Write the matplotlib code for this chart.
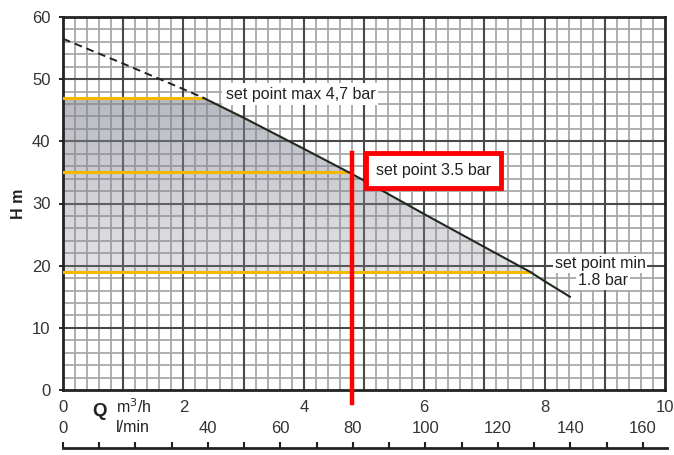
import numpy as np
import matplotlib
matplotlib.use('Agg')
from matplotlib import pyplot as plt
from matplotlib.ticker import MultipleLocator, FuncFormatter
from matplotlib.colors import LinearSegmentedColormap

plt.rcParams['font.family'] = ['Liberation Sans', 'DejaVu Sans']

# pump curve Q (m3/h) vs H (m)
q_dash = [0, 1, 2, 2.33]
h_dash = [56.5, 52.5, 48.4, 47]
q_curve = [2.33, 3, 4, 4.75, 5, 6, 7, 7.76, 8, 8.42]
h_curve = [47, 43.8, 38.8, 35, 33.7, 28.3, 23.0, 19, 17.5, 15]

# set points: head (m) and flow where they meet the curve
sp_head = [47, 35, 19]
sp_flow = [2.33, 4.75, 7.76]
sp_text = ['set point max 4,7 bar', 'set point 3.5 bar', 'set point min', '1.8 bar']
red_flow = 4.8  # 80 l/min

q_ticks = [0, 2, 4, 6, 8, 10]
lmin_labels = [0, 40, 60, 80, 100, 120, 140, 160]

fig = plt.figure(figsize=(6.74, 4.55), dpi=100)
ax = fig.add_axes([63/674, 1-390/455, 602/674, 373/455])
ax.set_xlim(0, 10)
ax.set_ylim(0, 60)

ax.xaxis.set_major_locator(MultipleLocator(1))
ax.xaxis.set_minor_locator(MultipleLocator(0.2))
ax.yaxis.set_major_locator(MultipleLocator(10))
ax.yaxis.set_minor_locator(MultipleLocator(2))
ax.xaxis.set_major_formatter(FuncFormatter(lambda v, p: '%d' % v if round(v) in q_ticks else ''))
ax.grid(which='minor', color='#a8a8a8', lw=1.3, zorder=0)
ax.set_axisbelow(True)
# darker major grid drawn on top of the minor one
for v in range(1, 10):
    ax.axvline(v, color='#4a4a4a', lw=1.5, zorder=1)
for v in range(10, 60, 10):
    ax.axhline(v, color='#4a4a4a', lw=1.5, zorder=1)
ax.tick_params(axis='x', which='both', length=0, pad=7, labelsize=12, labelcolor='#333333')
ax.tick_params(axis='y', which='major', length=3, width=1.2, pad=6, labelsize=12, labelcolor='#333333')
ax.tick_params(axis='y', which='minor', length=0)
for s in ax.spines.values():
    s.set_linewidth(2)
    s.set_color('#222222')

# shaded working area, gradient darker at the top
poly_x = [0, 0] + q_curve[:8] + [0]
poly_y = [19, 47] + h_curve[:8] + [19]
patch = ax.fill(poly_x, poly_y, color='none', lw=0, zorder=2)[0]
cmap = LinearSegmentedColormap.from_list('g', [(0.55, 0.55, 0.6, 0.25), (0.5, 0.5, 0.56, 0.55)])
grad = np.linspace(0, 1, 100).reshape(-1, 1)
img = ax.imshow(grad, extent=[0, 8, 19, 47], origin='lower', aspect='auto', cmap=cmap, zorder=2)
img.set_clip_path(patch)

for h, q in zip(sp_head, sp_flow):
    ax.plot([0, q], [h, h], color='#f5b800', lw=2.2, zorder=3)

ax.plot(q_dash, h_dash, color='#222222', lw=1.4, ls=(0, (4, 2.5)), zorder=4)
ax.plot(q_curve, h_curve, color='#1e2a1e', lw=1.5, zorder=4)

ax.plot([red_flow, red_flow], [38.1, -2.1], color='#ff0000', lw=3.2, zorder=5, clip_on=False)

ax.text(2.7, 47.6, sp_text[0], fontsize=11.5, va='center', ha='left', color='#222222',
        bbox=dict(boxstyle='square,pad=0.2', fc='white', ec='none'), zorder=6)
ax.text(6.15, 35.3, sp_text[1], fontsize=11.5, va='center', ha='center', color='#222222',
        bbox=dict(boxstyle='square,pad=0.62', fc='white', ec='#ff0000', lw=3.5), zorder=6)
ax.text(8.92, 20.4, sp_text[2], fontsize=11.5, va='center', ha='center', color='#222222',
        bbox=dict(boxstyle='square,pad=0.12', fc='white', ec='none'), zorder=6)
ax.text(8.97, 17.6, sp_text[3], fontsize=11.5, va='center', ha='center', color='#222222',
        bbox=dict(boxstyle='square,pad=0.12', fc='white', ec='none'), zorder=6)

ax.set_ylabel('H m', fontsize=11.5, fontweight='bold', labelpad=4, color='#222222')

fig.text(100/674, 1-412/455, 'Q', fontsize=13.5, fontweight='bold', ha='center', va='center', color='#222222')
fig.text(116/674, 1-407/455, 'm$^3$/h', fontsize=11.5, ha='left', va='center', color='#222222')
fig.text(116/674, 1-428/455, 'l/min', fontsize=11.5, ha='left', va='center', color='#222222')

# second flow scale in l/min
ax2 = fig.add_axes([63/674, 0.002, 604/674, 1-448/455-0.002])
ax2.set_xlim(0, 10 * 1000 / 60)
ax2.set_ylim(0, 1)
ax2.patch.set_visible(False)
for k in ['left', 'right', 'bottom']:
    ax2.spines[k].set_visible(False)
ax2.spines['top'].set_linewidth(2)
ax2.spines['top'].set_color('#222222')
ax2.set_yticks([])
ax2.xaxis.tick_top()
ax2.xaxis.set_major_locator(MultipleLocator(10))
ax2.xaxis.set_major_formatter(FuncFormatter(lambda v, p: '%d' % v if round(v) in lmin_labels else ''))
ax2.tick_params(axis='x', direction='out', length=4.5, width=1.5, color='#222222', pad=4,
                labelsize=12, labelcolor='#333333')

fig.savefig('out.png', dpi=100)
